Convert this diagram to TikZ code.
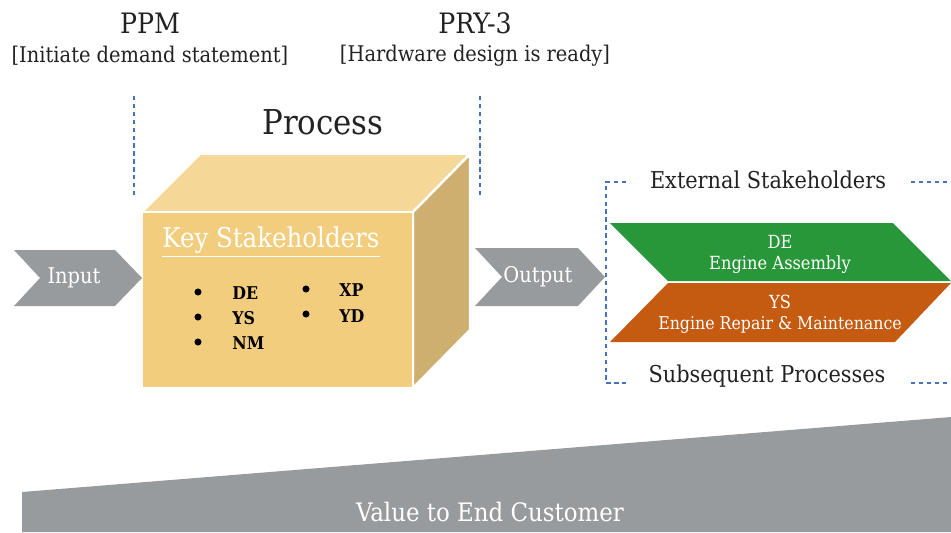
\documentclass[tikz,border=0pt]{standalone}
\usepackage{fontspec}
\setmainfont{DejaVu Serif Condensed}
\definecolor{cubefront}{HTML}{F2CD7E}
\definecolor{cubetop}{HTML}{F5D898}
\definecolor{cubeside}{HTML}{CFAF6F}
\definecolor{chevgray}{HTML}{979B9E}
\definecolor{bandgreen}{HTML}{28973A}
\definecolor{bandorange}{HTML}{C55A11}
\definecolor{dashblue}{HTML}{4472C4}
\definecolor{txt}{HTML}{222222}
\begin{document}
\begin{tikzpicture}[x=0.02cm,y=-0.02cm,
  bluedash/.style={draw=dashblue,line width=0.6pt,dash pattern=on 2.5pt off 2pt},
  face/.style={draw=white,line width=1.4pt,line join=round},
  whitetxt/.style={text=white,inner sep=0pt,align=center},
  darktxt/.style={text=txt,inner sep=0pt,align=center},
  bul/.style={circle,fill=black,inner sep=0pt,minimum size=4pt},
  itm/.style={text=black,inner sep=0pt,anchor=west,font=\fontsize{10}{11}\selectfont\bfseries}]
\useasboundingbox (0,0) rectangle (951,532);

% top labels
\node[darktxt,font=\fontsize{16}{18}\selectfont] (ppm) at (150,23) {PPM};
\node[darktxt,font=\fontsize{12.3}{14}\selectfont] (ppmsub) at (150,56) {[Initiate demand statement]};
\node[darktxt,font=\fontsize{16}{18}\selectfont] (pry) at (475,23) {PRY-3};
\node[darktxt,font=\fontsize{12.3}{14}\selectfont] (prysub) at (475,56) {[Hardware design is ready]};
\node[darktxt,font=\fontsize{19.5}{22}\selectfont] (process) at (323,122) {Process};

% milestone dashed lines
\coordinate (m1a) at (134,96); \coordinate (m1b) at (134,196);
\coordinate (m2a) at (480,96); \coordinate (m2b) at (480,196);
\draw[bluedash] (m1a) -- (m1b);
\draw[bluedash] (m2a) -- (m2b);

% bottom wedge
\fill[chevgray] (22,492) -- (951,417) -- (951,532) -- (22,532) -- cycle;
\node[whitetxt,font=\fontsize{14.5}{16}\selectfont] (value) at (490,512) {Value to End Customer};

% cube
\coordinate (ftl) at (142,212); \coordinate (ftr) at (413,212);
\coordinate (fbr) at (413,388); \coordinate (fbl) at (142,388);
\coordinate (btl) at (200,154); \coordinate (btr) at (470,154);
\coordinate (bbr) at (470,330);
\filldraw[face,fill=cubetop] (ftl) -- (btl) -- (btr) -- (ftr) -- cycle;
\filldraw[face,fill=cubeside] (ftr) -- (btr) -- (bbr) -- (fbr) -- cycle;
\filldraw[face,fill=cubefront] (ftl) -- (ftr) -- (fbr) -- (fbl) -- cycle;

\node[whitetxt,font=\fontsize{15.5}{17}\selectfont] (key) at (271,242) {\underline{Key Stakeholders}};
\node[bul] (b1) at (198,292) {}; \node[itm] (t1) at (232,293) {DE};
\node[bul] (b2) at (198,317) {}; \node[itm] (t2) at (232,318) {YS};
\node[bul] (b3) at (198,342) {}; \node[itm] (t3) at (232,343) {NM};
\node[bul] (b4) at (306,289) {}; \node[itm] (t4) at (339,290) {XP};
\node[bul] (b5) at (306,314) {}; \node[itm] (t5) at (339,316) {YD};

% input chevron
\fill[chevgray] (14,250) -- (115,250) -- (142,278) -- (115,306) -- (14,306) -- (40,278) -- cycle;
\node[whitetxt,font=\fontsize{12.3}{14}\selectfont] (input) at (74,278) {Input};

% output chevron
\fill[chevgray] (475,248) -- (578,248) -- (605,277) -- (578,306) -- (475,306) -- (502,277) -- cycle;
\node[whitetxt,font=\fontsize{12.3}{14}\selectfont] (output) at (538,277) {Output};

% external stakeholders bracket
\node[darktxt,font=\fontsize{13.2}{15}\selectfont] (ext) at (768,180) {External Stakeholders};
\node[darktxt,font=\fontsize{13.2}{15}\selectfont] (subs) at (767,376) {Subsequent Processes};
\coordinate (k1) at (626,182); \coordinate (k2) at (606,182);
\coordinate (k3) at (606,383); \coordinate (k4) at (626,383);
\draw[bluedash] (k1) -- (k2) -- (k3) -- (k4);
\coordinate (r1) at (911,182); \coordinate (r2) at (951,182);
\coordinate (r3) at (911,383); \coordinate (r4) at (951,383);
\draw[bluedash] (r1) -- (r2);
\draw[bluedash] (r3) -- (r4);

% bands
\fill[bandgreen] (610,223) -- (893,223) -- (951,281) -- (668,281) -- cycle;
\fill[bandorange] (668,283) -- (951,283) -- (895,342) -- (610,342) -- cycle;
\node[whitetxt,font=\fontsize{10.3}{12}\selectfont] (de) at (780,242) {DE};
\node[whitetxt,font=\fontsize{10.3}{12}\selectfont] (dea) at (780,265) {Engine Assembly};
\node[whitetxt,font=\fontsize{10.3}{12}\selectfont] (ys) at (780,302) {YS};
\node[whitetxt,font=\fontsize{10}{12}\selectfont] (ysa) at (780,325) {Engine Repair \& Maintenance};
\end{tikzpicture}
\end{document}
